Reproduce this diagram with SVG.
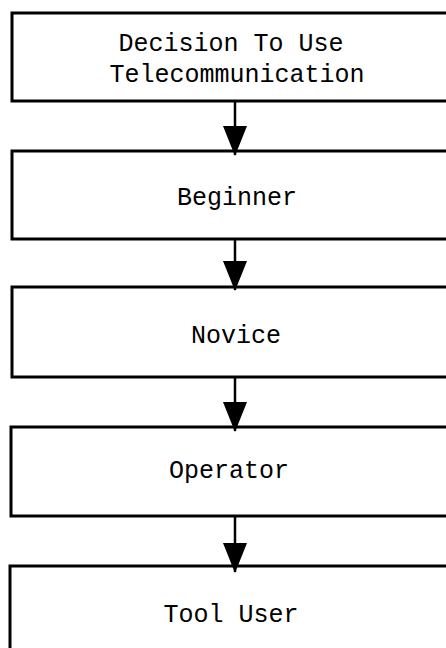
<svg xmlns="http://www.w3.org/2000/svg" width="446" height="648" viewBox="0 0 446 648">
<style>
.box{fill:#fff;stroke:#000;stroke-width:3}
.lbl{font-family:"Liberation Mono","Courier New",monospace;font-size:25px;fill:#000;text-anchor:middle}
.conn{stroke:#000;stroke-width:2.5;fill:none}
</style>
<defs>
<marker id="ah" markerUnits="userSpaceOnUse" markerWidth="30" markerHeight="26" refX="29" refY="12" orient="auto" viewBox="0 0 30 24">
<path d="M0,0 L30,12 L0,24 Z" fill="#000"/>
</marker>
</defs>
<rect width="446" height="648" fill="#fff"/>
<g id="n1"><rect class="box" x="12" y="13" width="450" height="88"/>
<text class="lbl" x="231" y="51">Decision To Use</text>
<text class="lbl" x="237" y="82">Telecommunication</text></g>
<g id="n2"><rect class="box" x="12" y="151" width="450" height="88"/>
<text class="lbl" x="237" y="205">Beginner</text></g>
<g id="n3"><rect class="box" x="12" y="287" width="450" height="90"/>
<text class="lbl" x="236" y="343">Novice</text></g>
<g id="n4"><rect class="box" x="11" y="427" width="450" height="89"/>
<text class="lbl" x="229" y="478">Operator</text></g>
<g id="n5"><rect class="box" x="10" y="566" width="450" height="100"/>
<text class="lbl" x="231" y="622">Tool User</text></g>
<g id="connectors">
<line class="conn" x1="235" y1="101" x2="235" y2="155" marker-end="url(#ah)"/>
<line class="conn" x1="235" y1="239" x2="235" y2="290" marker-end="url(#ah)"/>
<line class="conn" x1="235" y1="377" x2="235" y2="431" marker-end="url(#ah)"/>
<line class="conn" x1="235" y1="516" x2="235" y2="572" marker-end="url(#ah)"/>
</g>
</svg>
